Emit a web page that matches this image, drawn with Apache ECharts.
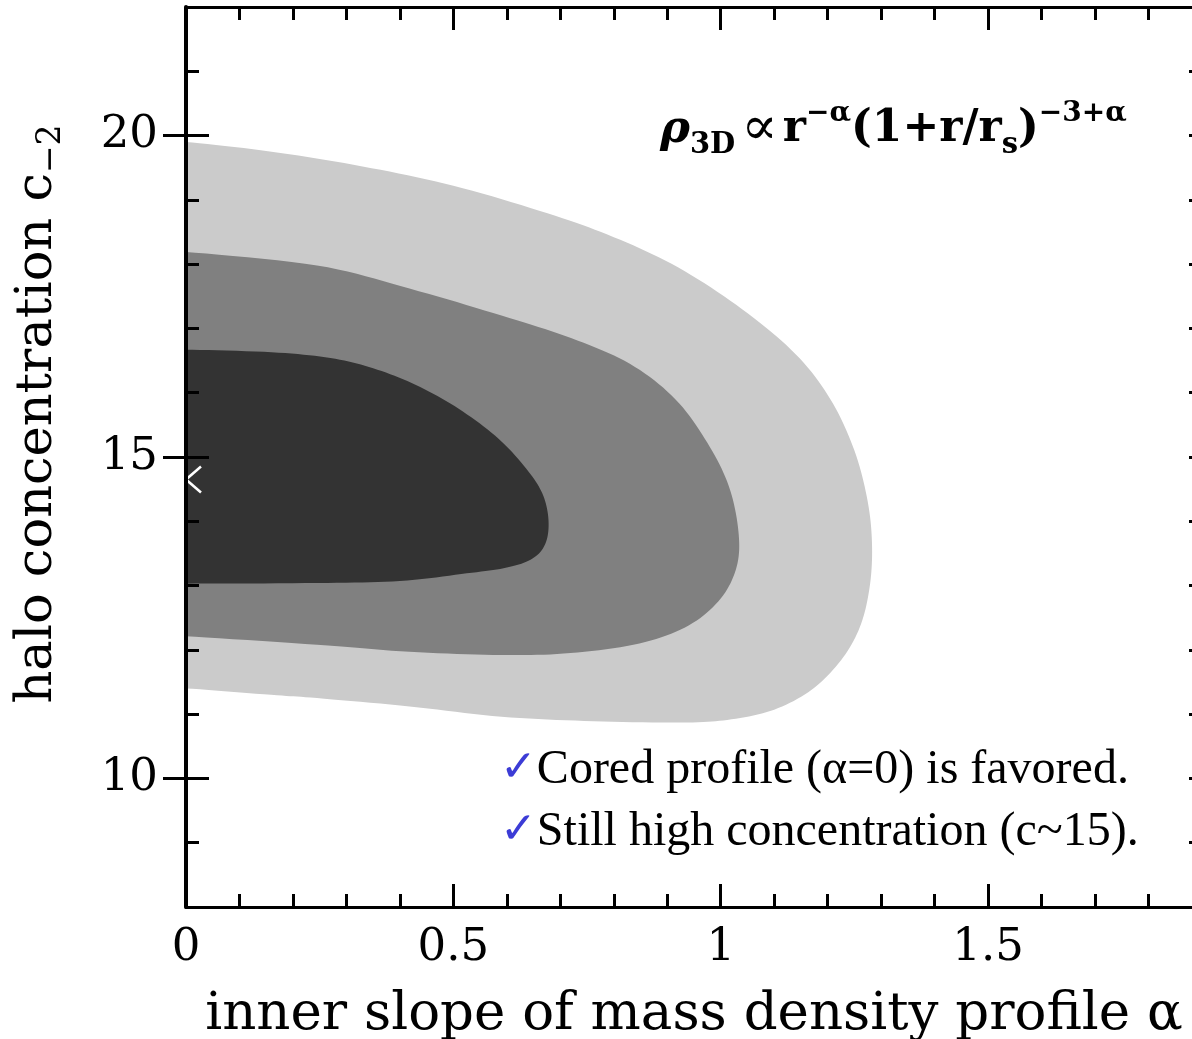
<!DOCTYPE html>
<html>
<head>
<meta charset="utf-8">
<script src="https://cdn.jsdelivr.net/npm/echarts@6/dist/echarts.min.js"></script>
<style>
  html, body { margin: 0; padding: 0; background: #fff; overflow: hidden; }
  #chart { width: 1192px; height: 1039px; }
</style>
</head>
<body>
<div id="chart"></div>
<script>
// Axis ranges and ticks
const xRange = [0, 1.9];
const xMajorStep = 0.5;
const yRange = [8, 22];
const yMinorStep = 1;
const yMajorTicks = [10, 15, 20];

// Confidence regions in the (alpha, c_-2) plane, outermost first.
// Each region is traced from the top at alpha = 0, round the right tip,
// back to the bottom at alpha = 0.
const outerAlpha = [0, 0.16, 0.33, 0.50, 0.676, 0.80, 0.92, 1.04, 1.14, 1.205, 1.25, 1.275, 1.283, 1.278, 1.26, 1.225, 1.17, 1.10, 1.02, 0.935, 0.762, 0.590, 0.418, 0.245, 0.159, 0];
const outerC     = [19.9, 19.75, 19.52, 19.22, 18.79, 18.42, 17.95, 17.30, 16.60, 15.90, 15.10, 14.30, 13.60, 12.95, 12.35, 11.84, 11.38, 11.07, 10.92, 10.87, 10.89, 10.96, 11.12, 11.25, 11.30, 11.40];

const middleAlpha = [0, 0.245, 0.418, 0.590, 0.72, 0.83, 0.915, 0.975, 1.015, 1.033, 1.03, 1.0, 0.94, 0.848, 0.719, 0.590, 0.418, 0.245, 0];
const middleC     = [18.19, 17.98, 17.62, 17.20, 16.85, 16.45, 15.90, 15.22, 14.55, 13.85, 13.30, 12.80, 12.38, 12.10, 11.95, 11.92, 11.97, 12.08, 12.21];

const innerAlpha = [0, 0.16, 0.27, 0.35, 0.43, 0.51, 0.585, 0.64, 0.668, 0.678, 0.672, 0.648, 0.60, 0.525, 0.40, 0.245, 0];
const innerC     = [16.67, 16.63, 16.54, 16.38, 16.12, 15.75, 15.28, 14.78, 14.40, 14.00, 13.65, 13.42, 13.28, 13.19, 13.07, 13.04, 13.03];

// Best-fit point
const bestFit = [0, 14.65];

const regionColors = ['#cbcbcb', '#808080', '#333333'];

// Smooth pixel outline through the given pixel points (Catmull-Rom)
function smoothOutline(pts, steps) {
  const out = [];
  const n = pts.length;
  for (let i = 0; i < n - 1; i++) {
    const p0 = pts[Math.max(i - 1, 0)];
    const p1 = pts[i];
    const p2 = pts[i + 1];
    const p3 = pts[Math.min(i + 2, n - 1)];
    for (let s = 0; s < steps; s++) {
      const t = s / steps, t2 = t * t, t3 = t2 * t;
      const f = k => 0.5 * ((2 * p1[k]) + (-p0[k] + p2[k]) * t +
        (2 * p0[k] - 5 * p1[k] + 4 * p2[k] - p3[k]) * t2 +
        (-p0[k] + 3 * p1[k] - 3 * p2[k] + p3[k]) * t3);
      out.push([f(0), f(1)]);
    }
  }
  out.push(pts[n - 1]);
  return out;
}

function regionSeries(alpha, c, color) {
  return {
    type: 'custom',
    coordinateSystem: 'cartesian2d',
    clip: true,
    silent: true,
    z: 2,
    data: [[alpha[0], c[0]]],
    renderItem: function (params, api) {
      const pts = alpha.map((a, i) => api.coord([a, c[i]]));
      // close the outline behind the left axis (clipped away)
      const first = pts[0], last = pts[pts.length - 1];
      pts.unshift([first[0] - 30, first[1]]);
      pts.push([last[0] - 30, last[1]]);
      return {
        type: 'polygon',
        shape: { points: smoothOutline(pts, 10) },
        style: { fill: color }
      };
    }
  };
}

const serif = 'DejaVu Serif';
const tickLine = { color: '#000', width: 3 };

function xAxisDef(pos, withLabels) {
  return {
    type: 'value', position: pos, min: xRange[0], max: xRange[1], interval: xMajorStep,
    z: 5,
    axisLine: { show: true, onZero: false, lineStyle: { color: '#000', width: 3 } },
    axisTick: { show: true, inside: true, length: 23, lineStyle: tickLine },
    minorTick: { show: true, splitNumber: 5, length: 13, lineStyle: tickLine },
    splitLine: { show: false },
    minorSplitLine: { show: false },
    axisLabel: {
      show: withLabels, showMaxLabel: false, margin: 19,
      fontFamily: serif, fontSize: 45, color: '#000'
    },
    name: withLabels ? 'inner slope of mass density profile α' : '',
    nameLocation: 'middle', nameGap: 82,
    nameTextStyle: { fontFamily: serif, fontSize: 53, color: '#000' }
  };
}

function yMinorAxis(pos, withLabels) {
  return {
    type: 'value', position: pos, min: yRange[0], max: yRange[1], interval: yMinorStep,
    z: 5,
    axisLine: { show: true, onZero: false, lineStyle: { color: '#000', width: pos === 'left' ? 4 : 3 } },
    axisTick: { show: true, inside: true, length: 13, lineStyle: tickLine },
    splitLine: { show: false },
    axisLabel: {
      show: withLabels, margin: 28,
      fontFamily: serif, fontSize: 45, color: '#000',
      formatter: v => (yMajorTicks.indexOf(v) >= 0 ? String(v) : '')
    }
  };
}

function yMajorAxis(pos) {
  return {
    type: 'value', position: pos, min: yRange[0], max: yRange[1],
    z: 5,
    axisLine: { show: false },
    axisTick: { show: true, inside: true, length: 23, lineStyle: tickLine, customValues: yMajorTicks },
    axisLabel: { show: false, customValues: yMajorTicks },
    splitLine: { show: false }
  };
}

const chart = echarts.init(document.getElementById('chart'), null, { renderer: 'canvas' });

chart.setOption({
  animation: false,
  backgroundColor: '#fff',
  grid: { left: 186, top: 7, right: -10, bottom: 132, containLabel: false, outerBoundsMode: 'none' },
  xAxis: [xAxisDef('bottom', true), xAxisDef('top', false)],
  yAxis: [yMinorAxis('left', true), yMajorAxis('left'), yMinorAxis('right', false), yMajorAxis('right')],
  series: [
    regionSeries(outerAlpha, outerC, regionColors[0]),
    regionSeries(middleAlpha, middleC, regionColors[1]),
    regionSeries(innerAlpha, innerC, regionColors[2]),
    {
      type: 'custom',
      coordinateSystem: 'cartesian2d',
      clip: true,
      silent: true,
      z: 3,
      data: [bestFit],
      renderItem: function (params, api) {
        const p = api.coord([api.value(0), api.value(1)]);
        const dx = 15, dy = 13;
        const st = { stroke: '#fff', lineWidth: 2.5 };
        return {
          type: 'group',
          children: [
            { type: 'line', shape: { x1: p[0] - dx, y1: p[1] - dy, x2: p[0] + dx, y2: p[1] + dy }, style: st },
            { type: 'line', shape: { x1: p[0] - dx, y1: p[1] + dy, x2: p[0] + dx, y2: p[1] - dy }, style: st }
          ]
        };
      }
    }
  ],
  graphic: [
    {
      // y-axis title, read bottom to top
      type: 'text', x: 38, y: 414, rotation: Math.PI / 2, z: 10,
      style: {
        text: '{n|halo concentration c}{s|−2}',
        align: 'center', verticalAlign: 'middle',
        rich: {
          n: { fontFamily: serif, fontSize: 51, lineHeight: 60, fill: '#000' },
          s: { fontFamily: serif, fontSize: 33, lineHeight: 18, verticalAlign: 'bottom', fill: '#000' }
        }
      }
    },
    {
      // profile formula
      type: 'text', x: 660, y: 100, z: 10,
      style: {
        text: '{rho|ρ}{lo|3D}{op|∝}{b|r}{hi|−α}{b|(1+r/r}{lo|s}{b|)}{hi|−3+α}',
        align: 'left', verticalAlign: 'top',
        rich: {
          rho: { fontFamily: serif, fontSize: 45, fontWeight: 'bold', fontStyle: 'italic', lineHeight: 60, fill: '#000' },
          b:   { fontFamily: serif, fontSize: 44, fontWeight: 'bold', lineHeight: 60, fill: '#000' },
          op:  { fontFamily: serif, fontSize: 54, lineHeight: 60, fill: '#000', padding: [0, 5, 0, 6] },
          hi:  { fontFamily: serif, fontSize: 28, fontWeight: 'bold', lineHeight: 24, verticalAlign: 'top', fill: '#000' },
          lo:  { fontFamily: serif, fontSize: 29, fontWeight: 'bold', lineHeight: 26, verticalAlign: 'bottom', fill: '#000' }
        }
      }
    },
    {
      type: 'text', x: 500, y: 770, z: 10,
      style: {
        text: '{ck|✓}{t|Cored profile (α=0) is favored.}',
        align: 'left', verticalAlign: 'middle',
        rich: {
          ck: { fontFamily: 'DejaVu Sans', fontSize: 44, fill: '#3c3cd6' },
          t: { fontFamily: 'Liberation Serif', fontSize: 48, fill: '#000' }
        }
      }
    },
    {
      type: 'text', x: 500, y: 832, z: 10,
      style: {
        text: '{ck|✓}{t|Still high concentration (c~15).}',
        align: 'left', verticalAlign: 'middle',
        rich: {
          ck: { fontFamily: 'DejaVu Sans', fontSize: 44, fill: '#3c3cd6' },
          t: { fontFamily: 'Liberation Serif', fontSize: 48, fill: '#000' }
        }
      }
    }
  ]
});
</script>
</body>
</html>
